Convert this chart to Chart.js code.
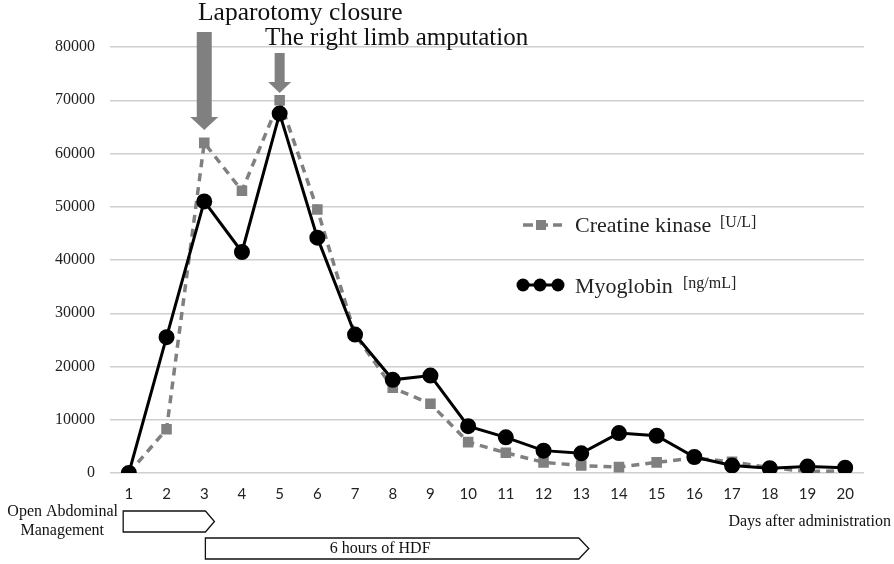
<!DOCTYPE html>
<html>
<head>
<meta charset="utf-8">
<script src="https://cdn.jsdelivr.net/npm/chart.js@4/dist/chart.umd.min.js"></script>
<style>
  html, body { margin: 0; padding: 0; background: #fff; }
  #wrap { width: 894px; height: 564px; }
</style>
</head>
<body>
<div id="wrap"><canvas id="chart" width="894" height="564"></canvas></div>
<script>
// days after administration
const days = [1, 2, 3, 4, 5, 6, 7, 8, 9, 10, 11, 12, 13, 14, 15, 16, 17, 18, 19, 20];
const creatineKinase = [0, 8200, 62000, 53000, 70000, 49500, 26000, 16000, 13000, 5800,
  3800, 2000, 1400, 1100, 2000, 2800, 2100, 1000, 300, 400];
const myoglobin = [0, 25500, 51000, 41500, 67500, 44200, 26000, 17500, 18300, 8800,
  6700, 4200, 3700, 7500, 7000, 3000, 1400, 900, 1200, 1000];
const yTicks = [0, 10000, 20000, 30000, 40000, 50000, 60000, 70000, 80000];

// events / treatment periods (in days)
const eventDays = { laparotomy: 3, amputation: 5 };
const openAbdomen = [0.85, 3.27];
const hdfPeriod = [3.03, 13.2];

const SERIF = '"Liberation Serif", "Times New Roman", serif';
const GRAY = '#808080';

function toPoints(vals) {
  return days.map((d, i) => ({ x: d, y: vals[i] }));
}

function downArrow(ctx, x, top, headTop, tip, shaftW, headW) {
  ctx.beginPath();
  ctx.moveTo(x - shaftW / 2, top);
  ctx.lineTo(x + shaftW / 2, top);
  ctx.lineTo(x + shaftW / 2, headTop);
  ctx.lineTo(x + headW / 2, headTop);
  ctx.lineTo(x, tip);
  ctx.lineTo(x - headW / 2, headTop);
  ctx.lineTo(x - shaftW / 2, headTop);
  ctx.closePath();
  ctx.fill();
}

function spanArrow(ctx, x0, x1, top, bottom, tipLen) {
  ctx.beginPath();
  ctx.moveTo(x0, top);
  ctx.lineTo(x1 - tipLen, top);
  ctx.lineTo(x1, (top + bottom) / 2);
  ctx.lineTo(x1 - tipLen, bottom);
  ctx.lineTo(x0, bottom);
  ctx.closePath();
  ctx.fillStyle = '#fff';
  ctx.fill();
  ctx.strokeStyle = '#111';
  ctx.lineWidth = 1.3;
  ctx.stroke();
}

const annotations = {
  id: 'annotations',
  afterDraw(chart) {
    const ctx = chart.ctx;
    const xs = chart.scales.x;
    ctx.save();

    // event arrows
    ctx.fillStyle = GRAY;
    downArrow(ctx, xs.getPixelForValue(eventDays.laparotomy), 32, 117, 130, 15, 28);
    downArrow(ctx, xs.getPixelForValue(eventDays.amputation), 53, 82, 93, 10, 23);

    ctx.fillStyle = '#111';
    ctx.textBaseline = 'middle';
    ctx.textAlign = 'left';
    ctx.font = '25.5px ' + SERIF;
    ctx.fillText('Laparotomy closure', 198, 13);
    ctx.font = '25px ' + SERIF;
    ctx.fillText('The right limb amputation', 265, 38);

    // legend
    ctx.strokeStyle = GRAY;
    ctx.lineWidth = 3.5;
    ctx.setLineDash([10, 5]);
    ctx.beginPath();
    ctx.moveTo(523, 225);
    ctx.lineTo(562, 225);
    ctx.stroke();
    ctx.setLineDash([]);
    ctx.fillStyle = GRAY;
    ctx.fillRect(536, 220, 10, 10);

    ctx.strokeStyle = '#000';
    ctx.lineWidth = 3;
    ctx.beginPath();
    ctx.moveTo(523, 285);
    ctx.lineTo(558, 285);
    ctx.stroke();
    ctx.fillStyle = '#000';
    [523, 540, 558].forEach(px => {
      ctx.beginPath();
      ctx.arc(px, 285, 6.5, 0, Math.PI * 2);
      ctx.fill();
    });

    ctx.fillStyle = '#222';
    ctx.font = '22px ' + SERIF;
    ctx.fillText('Creatine kinase', 575, 226);
    ctx.fillText('Myoglobin', 575, 287);
    ctx.font = '16px ' + SERIF;
    ctx.fillText('[U/L]', 720, 223);
    ctx.fillText('[ng/mL]', 683, 284);

    // treatment periods
    spanArrow(ctx, xs.getPixelForValue(openAbdomen[0]), xs.getPixelForValue(openAbdomen[1]), 511, 532, 9);
    spanArrow(ctx, xs.getPixelForValue(hdfPeriod[0]), xs.getPixelForValue(hdfPeriod[1]), 538, 559, 10);

    ctx.fillStyle = '#111';
    ctx.font = '16px ' + SERIF;
    ctx.textAlign = 'right';
    ctx.fillText('Open Abdominal', 118, 512);
    ctx.fillText('Management', 104, 531);
    ctx.textAlign = 'center';
    const hx = (xs.getPixelForValue(hdfPeriod[0]) + xs.getPixelForValue(hdfPeriod[1])) / 2;
    ctx.fillText('6 hours of HDF', hx - 17, 549);
    ctx.textAlign = 'right';
    ctx.fillText('Days after administration', 891, 522);

    ctx.restore();
  }
};

new Chart(document.getElementById('chart'), {
  type: 'line',
  data: {
    datasets: [
      {
        label: 'Creatine kinase [U/L]',
        data: toPoints(creatineKinase),
        borderColor: GRAY,
        backgroundColor: GRAY,
        borderWidth: 3.5,
        borderDash: [8, 6],
        pointStyle: 'rect',
        pointRadius: 5,
        pointHoverRadius: 5,
        tension: 0,
        order: 2
      },
      {
        label: 'Myoglobin [ng/mL]',
        data: toPoints(myoglobin),
        borderColor: '#000',
        backgroundColor: '#000',
        borderWidth: 3,
        pointStyle: 'circle',
        pointRadius: 6.5,
        pointHoverRadius: 6.5,
        tension: 0,
        order: 1
      }
    ]
  },
  options: {
    responsive: false,
    animation: false,
    events: [],
    layout: { padding: { top: 47, right: 30, bottom: 51, left: 0 } },
    plugins: {
      legend: { display: false },
      tooltip: { enabled: false }
    },
    scales: {
      x: {
        type: 'linear',
        min: 0.5,
        max: 20.5,
        afterBuildTicks: s => { s.ticks = days.map(v => ({ value: v })); },
        afterFit: s => { s.height = 40; },
        grid: { display: false, drawTicks: false },
        border: { display: false },
        ticks: {
          padding: 12,
          color: '#222',
          font: { family: 'Lato, "Open Sans", sans-serif', size: 15 },
          maxRotation: 0,
          autoSkip: false
        }
      },
      y: {
        min: 0,
        max: 80000,
        afterBuildTicks: s => { s.ticks = yTicks.map(v => ({ value: v })); },
        afterFit: s => { s.width = 110; },
        grid: { color: '#cfcfcf', lineWidth: 1.5, drawTicks: false },
        border: { display: false },
        ticks: {
          padding: 15,
          color: '#222',
          font: { family: SERIF, size: 16 },
          callback: v => String(v)
        }
      }
    }
  },
  plugins: [annotations]
});
</script>
</body>
</html>
